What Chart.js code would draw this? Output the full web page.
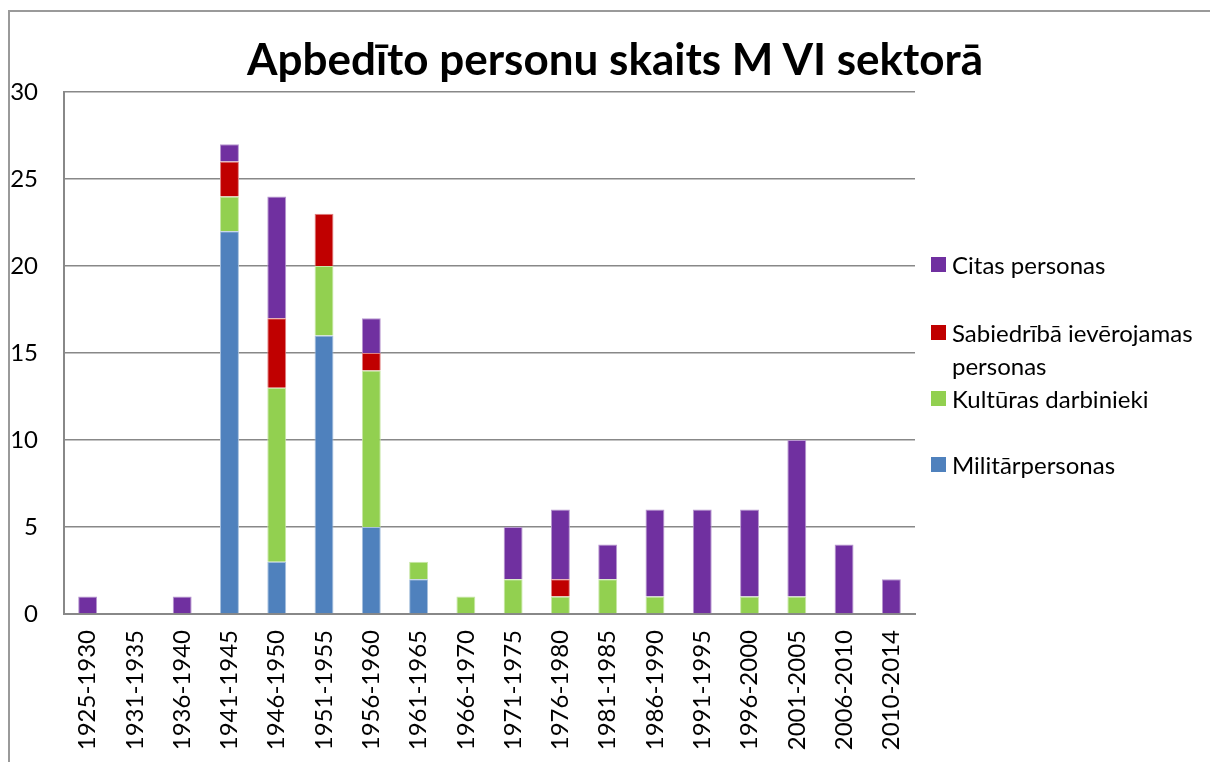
<!DOCTYPE html>
<html lang="lv">
<head>
  <meta charset="UTF-8" />
  <title>Apbedīto personu skaits M VI sektorā</title>
  <script src="https://cdn.jsdelivr.net/npm/chart.js"></script>
  <style>
    body {
      margin: 0;
      background: #ffffff;
      font-family: Lato, 'Noto Sans', sans-serif;
    }

    .wrap {
      position: relative;
      width: 1210px;
      height: 762px;
      overflow: hidden;
    }

    .frame {
      position: absolute;
      left: 8px;
      top: 10px;
      width: 1210px;
      height: 760px;
      border-left: 2px solid #9a9a9a;
      border-top: 2px solid #9a9a9a;
    }

    .title {
      position: absolute;
      left: 615px;
      top: 32px;
      transform: translateX(-50%);
      white-space: nowrap;
      font-weight: bold;
      font-size: 44px;
      color: #000;
    }

    canvas {
      position: absolute;
      left: 0;
      top: 0;
    }

    .legend-item {
      position: absolute;
      left: 931px;
      width: 279px;
    }

    .legend-item .box {
      position: absolute;
      left: 0;
      top: 0;
      width: 15px;
      height: 15px;
    }

    .legend-item .label {
      position: absolute;
      left: 21px;
      top: -9px;
      width: 256px;
      font-size: 24px;
      line-height: 33px;
      color: #000;
    }
  </style>
</head>
<body>
  <div class="wrap" id="wrap">
    <div class="frame"></div>
    <canvas id="chart" width="1210" height="762"></canvas>
    <div class="title">Apbedīto personu skaits M VI sektorā</div>
  </div>

  <script>
    const periods = ['1925-1930', '1931-1935', '1936-1940', '1941-1945', '1946-1950', '1951-1955',
      '1956-1960', '1961-1965', '1966-1970', '1971-1975', '1976-1980', '1981-1985',
      '1986-1990', '1991-1995', '1996-2000', '2001-2005', '2006-2010', '2010-2014'];

    const militarpersonas = [0, 0, 0, 22, 3, 16, 5, 2, 0, 0, 0, 0, 0, 0, 0, 0, 0, 0];
    const kulturasDarbinieki = [0, 0, 0, 2, 10, 4, 9, 1, 1, 2, 1, 2, 1, 0, 1, 1, 0, 0];
    const sabiedribaIevērojamas = [0, 0, 0, 2, 4, 3, 1, 0, 0, 0, 1, 0, 0, 0, 0, 0, 0, 0];
    const citasPersonas = [1, 0, 1, 1, 7, 0, 2, 0, 0, 3, 4, 2, 5, 6, 5, 9, 4, 2];

    const seriesNames = ['Militārpersonas', 'Kultūras darbinieki', 'Sabiedrībā ievērojamas personas', 'Citas personas'];
    const seriesColors = ['#4f81bd', '#92d050', '#c00000', '#7030a0'];
    const seriesBorders = ['#a7c0de', '#c8e7a7', '#e08080', '#b797cf'];
    const seriesValues = [militarpersonas, kulturasDarbinieki, sabiedribaIevērojamas, citasPersonas];

    const yTicks = [0, 5, 10, 15, 20, 25, 30];

    const tickFont = { family: 'Lato', size: 24 };

    new Chart(document.getElementById('chart'), {
      type: 'bar',
      data: {
        labels: periods,
        datasets: seriesNames.map((name, i) => ({
          label: name,
          data: seriesValues[i],
          backgroundColor: seriesColors[i],
          borderColor: seriesBorders[i],
          borderWidth: 1,
          barPercentage: 0.4,
          categoryPercentage: 1
        }))
      },
      options: {
        responsive: false,
        animation: false,
        layout: { padding: { top: 92, right: 295, left: 0, bottom: 0 } },
        plugins: {
          legend: { display: false },
          title: { display: false },
          tooltip: { enabled: false }
        },
        scales: {
          x: {
            stacked: true,
            afterFit: s => { s.height = 148; },
            grid: { display: false, drawTicks: false },
            border: { display: true, color: '#888888', width: 2 },
            ticks: {
              color: '#000',
              font: tickFont,
              minRotation: 90,
              maxRotation: 90,
              padding: 16,
              autoSkip: false
            }
          },
          y: {
            stacked: true,
            min: 0,
            max: 30,
            afterFit: s => { s.width = 64; },
            afterBuildTicks: s => { s.ticks = yTicks.map(v => ({ value: v })); },
            grid: { color: '#888888', lineWidth: 1.5, drawTicks: false },
            border: { display: true, color: '#888888', width: 2 },
            ticks: {
              color: '#000',
              font: tickFont,
              padding: 26
            }
          }
        }
      }
    });

    // legend on the right, top item is the top of the stack
    const legendTops = [457, 391, 325, 257];
    const wrap = document.getElementById('wrap');
    seriesNames.forEach((name, i) => {
      const item = document.createElement('div');
      item.className = 'legend-item';
      item.style.top = legendTops[i] + 'px';
      item.innerHTML = '<div class="box" style="background:' + seriesColors[i] + '"></div>' +
        '<div class="label">' + name + '</div>';
      wrap.appendChild(item);
    });
  </script>
</body>
</html>
